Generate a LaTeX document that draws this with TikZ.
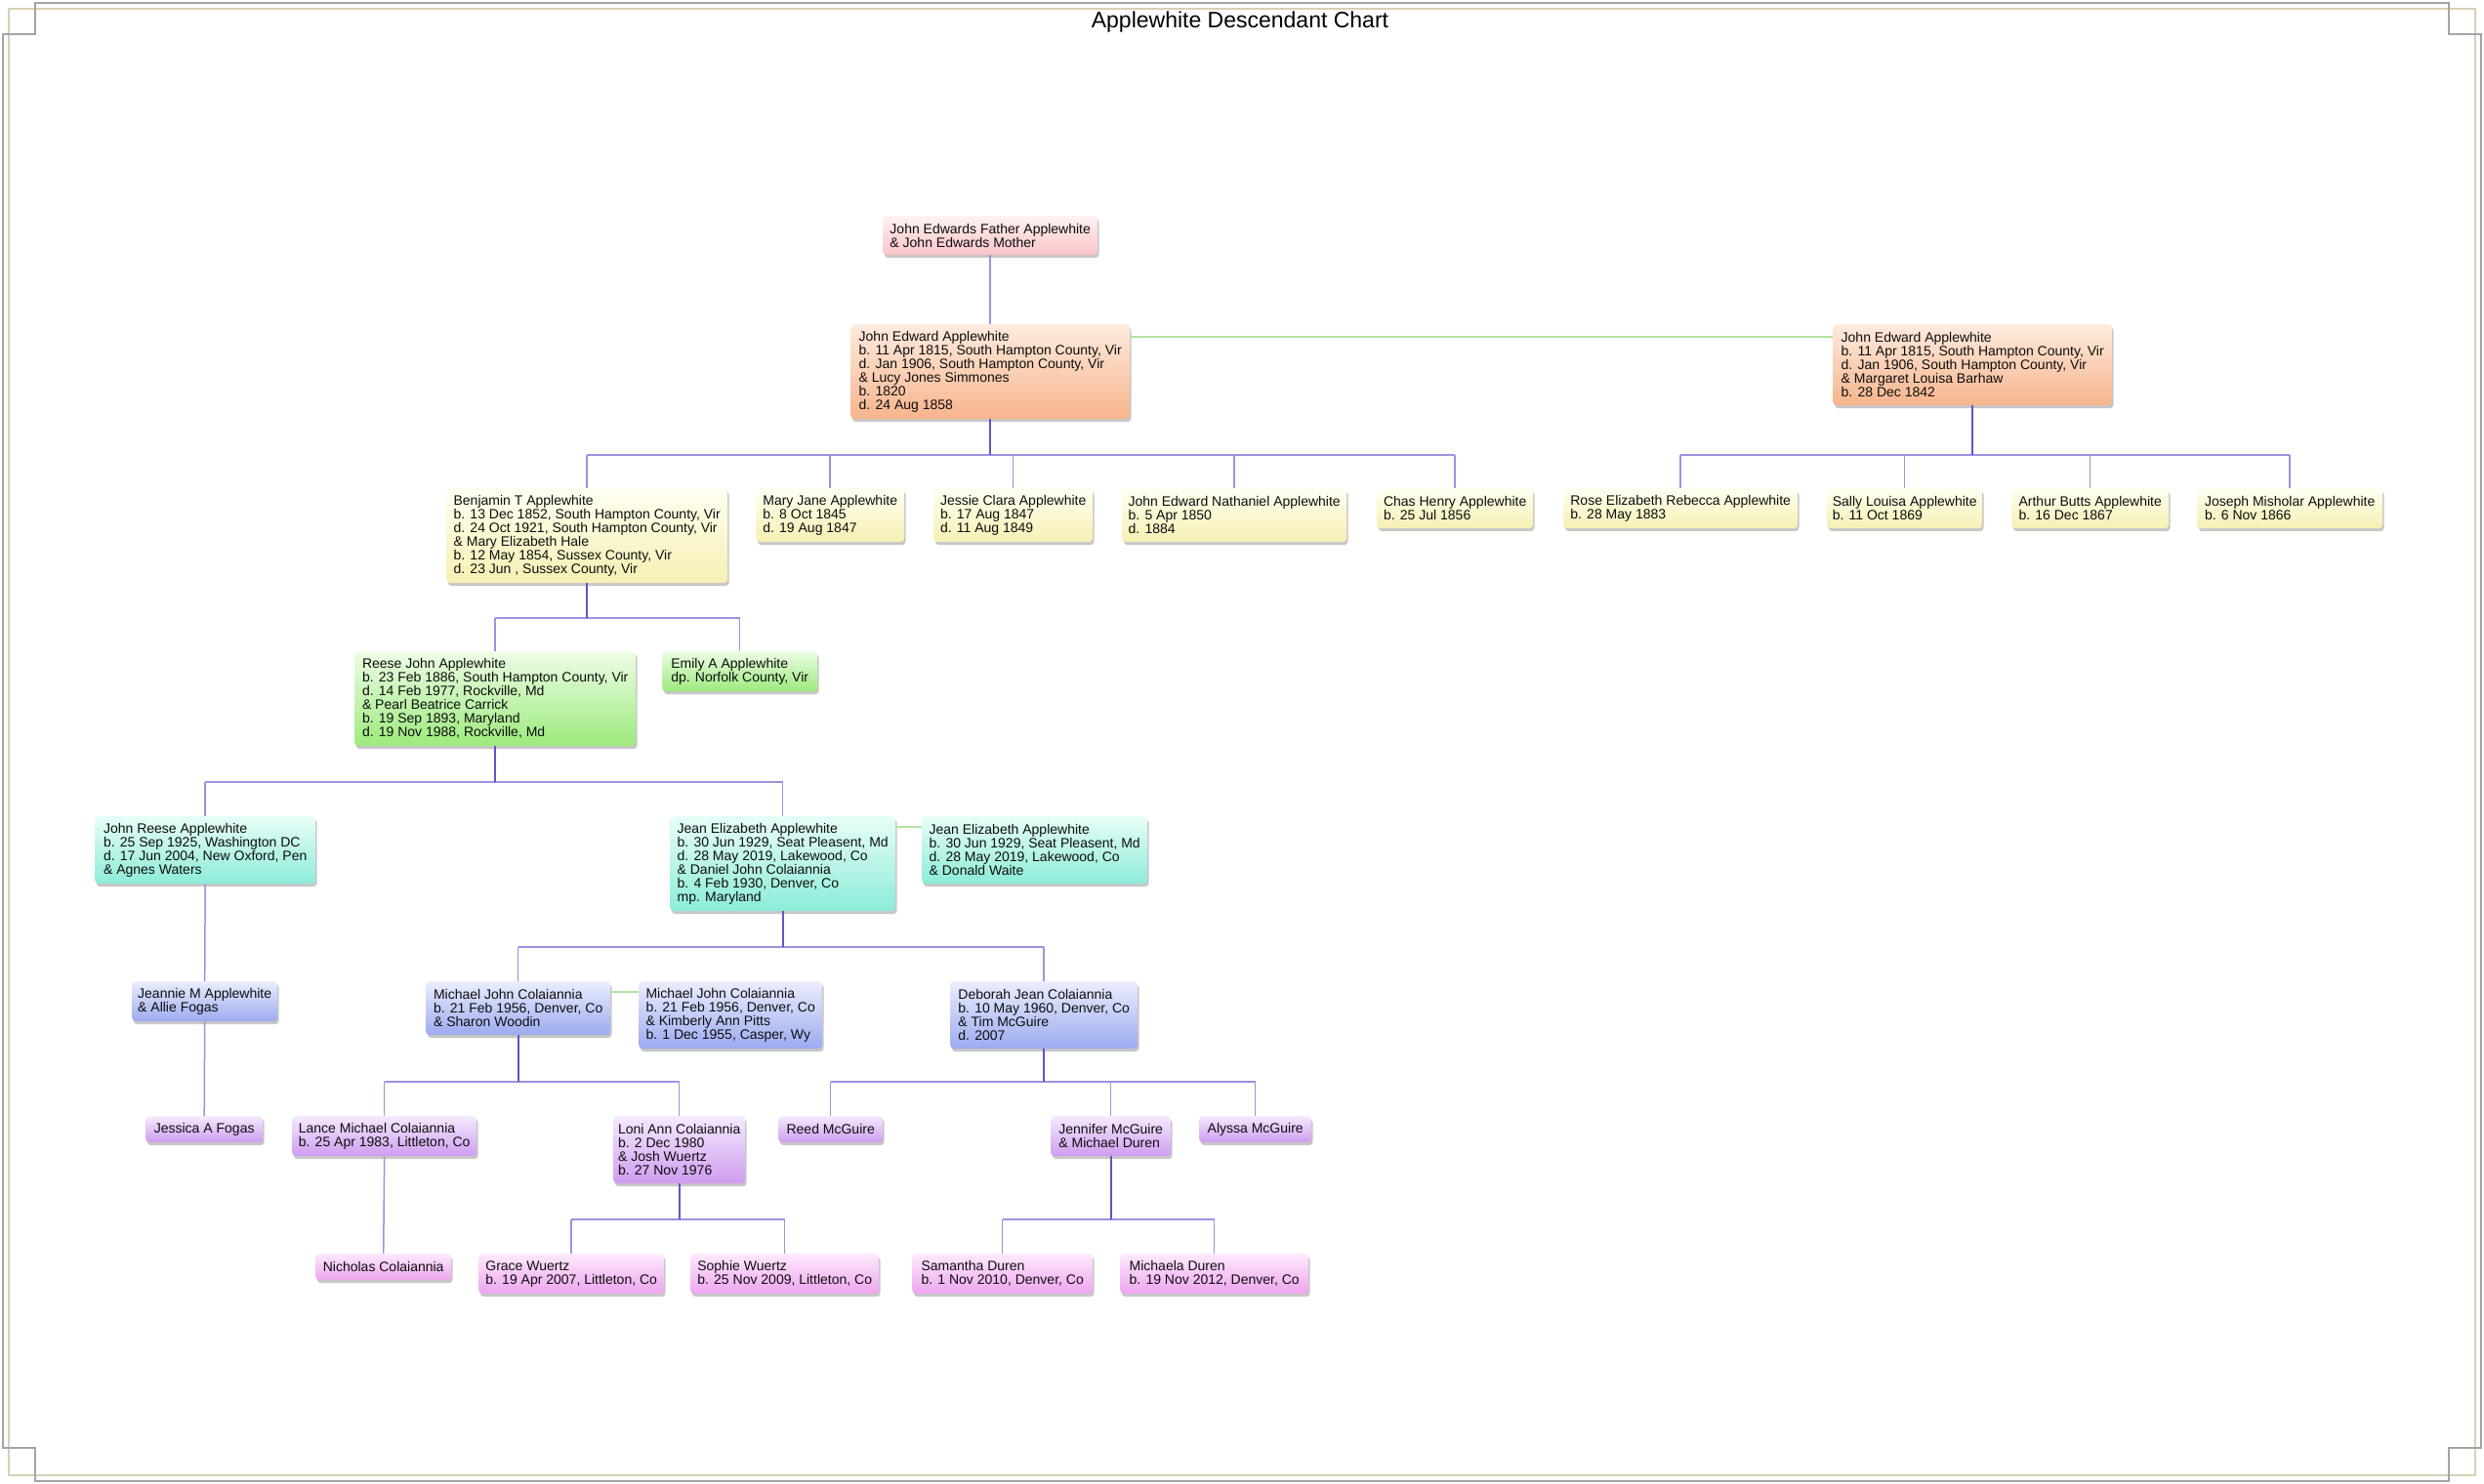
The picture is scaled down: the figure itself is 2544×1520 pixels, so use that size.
\documentclass[tikz,border=0pt]{standalone}
\usepackage{fontspec}
\setmainfont{Liberation Sans}
\usetikzlibrary{shadows}
\definecolor{c0t}{HTML}{FFF2F2}\definecolor{c0b}{HTML}{F8C4C8}
\definecolor{c1t}{HTML}{FDEBDF}\definecolor{c1b}{HTML}{F7B48C}
\definecolor{c2t}{HTML}{FFFFF2}\definecolor{c2b}{HTML}{F6F0B2}
\definecolor{c3t}{HTML}{EEFDE6}\definecolor{c3b}{HTML}{9CEA7C}
\definecolor{c4t}{HTML}{E8FDF8}\definecolor{c4b}{HTML}{8CECD8}
\definecolor{c5t}{HTML}{EAEEFD}\definecolor{c5b}{HTML}{9CAAF0}
\definecolor{c6t}{HTML}{F5EAFD}\definecolor{c6b}{HTML}{CE9CF0}
\definecolor{c7t}{HTML}{FDEAFD}\definecolor{c7b}{HTML}{EEA4EE}
\definecolor{barc}{HTML}{9C92E0}
\definecolor{stemc}{HTML}{6252D0}
\definecolor{spc}{HTML}{B0E4A0}
\definecolor{framegrey}{HTML}{A4A4A4}
\definecolor{framebeige}{HTML}{D8D0B6}
\newcommand\boxfont{\fontsize{14pt}{14pt}\selectfont}
\begin{document}
\begin{tikzpicture}[x=1pt,y=-1pt,
  pbox/.style={anchor=north west, rounded corners=4pt, align=left, inner xsep=4pt, inner ysep=4pt,
    font=\boxfont, text=black!95,
    drop shadow={shadow xshift=1.5pt, shadow yshift=-3pt, opacity=0.22, fill=black}},
  g0/.style={pbox, top color=c0t, bottom color=c0b},
  g1/.style={pbox, top color=c1t, bottom color=c1b},
  g2/.style={pbox, top color=c2t, bottom color=c2b},
  g3/.style={pbox, top color=c3t, bottom color=c3b},
  g4/.style={pbox, top color=c4t, bottom color=c4b},
  g5/.style={pbox, top color=c5t, bottom color=c5b},
  g6/.style={pbox, top color=c6t, bottom color=c6b},
  g7/.style={pbox, top color=c7t, bottom color=c7b},
  bar/.style={draw=barc, line width=1.5pt},
  stem/.style={draw=stemc, line width=2.4pt},
  spouse/.style={draw=spc, line width=1.8pt},
  wh/.style 2 args={minimum width=#1pt, minimum height=#2pt}
]
\fill[white] (0,0) rectangle (2544,1520);
\useasboundingbox (0,0) rectangle (2544,1520);
% frame
\draw[framebeige, line width=2pt] (9,9) rectangle (2535,1511);
\draw[framegrey, line width=2pt] (36,3) -- (2508,3) -- (2508,35) -- (2541,35) -- (2541,1483) -- (2508,1483) -- (2508,1517) -- (36,1517) -- (36,1483) -- (3,1483) -- (3,35) -- (36,35) -- cycle;
% title
\node[anchor=base, font=\fontsize{23pt}{23pt}\selectfont, text=black] (title) at (1270,28.5) {Applewhite Descendant Chart};

% generation 0
\node[g0, wh={220}{40}] (top) at (904,221) {John Edwards Father Applewhite\\\& John Edwards Mother};
% generation 1
\node[g1, wh={286}{97}] (jeaL) at (871,332) {John Edward Applewhite\\b. 11 Apr 1815, South Hampton County, Vir\\d. Jan 1906, South Hampton County, Vir\\\& Lucy Jones Simmones\\b. 1820\\d. 24 Aug 1858};
\node[g1, wh={286}{83}] (jeaR) at (1877,332) {John Edward Applewhite\\b. 11 Apr 1815, South Hampton County, Vir\\d. Jan 1906, South Hampton County, Vir\\\& Margaret Louisa Barhaw\\b. 28 Dec 1842};
% generation 2
\node[g2, wh={288}{97}] (benj) at (457,500) {Benjamin T Applewhite\\b. 13 Dec 1852, South Hampton County, Vir\\d. 24 Oct 1921, South Hampton County, Vir\\\& Mary Elizabeth Hale\\b. 12 May 1854, Sussex County, Vir\\d. 23 Jun , Sussex County, Vir};
\node[g2, wh={152}{55}] (mary) at (774,500) {Mary Jane Applewhite\\b. 8 Oct 1845\\d. 19 Aug 1847};
\node[g2, wh={163}{55}] (jessie) at (956,500) {Jessie Clara Applewhite\\b. 17 Aug 1847\\d. 11 Aug 1849};
\node[g2, wh={230}{55}] (jen) at (1149,500) {John Edward Nathaniel Applewhite\\b. 5 Apr 1850\\d. 1884};
\node[g2, wh={160}{41}] (chas) at (1410,500) {Chas Henry Applewhite\\b. 25 Jul 1856};
\node[g2, wh={240}{41}] (rose) at (1601,500) {Rose Elizabeth Rebecca Applewhite\\b. 28 May 1883};
\node[g2, wh={159}{41}] (sally) at (1871,500) {Sally Louisa Applewhite\\b. 11 Oct 1869};
\node[g2, wh={161}{41}] (arthur) at (2060,500) {Arthur Butts Applewhite\\b. 16 Dec 1867};
\node[g2, wh={190}{41}] (joseph) at (2250,500) {Joseph Misholar Applewhite\\b. 6 Nov 1866};
% generation 3
\node[g3, wh={288}{97}] (reese) at (363,667) {Reese John Applewhite\\b. 23 Feb 1886, South Hampton County, Vir\\d. 14 Feb 1977, Rockville, Md\\\& Pearl Beatrice Carrick\\b. 19 Sep 1893, Maryland\\d. 19 Nov 1988, Rockville, Md};
\node[g3, wh={159}{41}] (emily) at (678,667) {Emily A Applewhite\\dp. Norfolk County, Vir};
% generation 4
\node[g4, wh={226}{69}] (johnr) at (97,836) {John Reese Applewhite\\b. 25 Sep 1925, Washington DC\\d. 17 Jun 2004, New Oxford, Pen\\\& Agnes Waters};
\node[g4, wh={231}{97}] (jeanL) at (686,836) {Jean Elizabeth Applewhite\\b. 30 Jun 1929, Seat Pleasent, Md\\d. 28 May 2019, Lakewood, Co\\\& Daniel John Colaiannia\\b. 4 Feb 1930, Denver, Co\\mp. Maryland};
\node[g4, wh={231}{69}] (jeanR) at (944,836) {Jean Elizabeth Applewhite\\b. 30 Jun 1929, Seat Pleasent, Md\\d. 28 May 2019, Lakewood, Co\\\& Donald Waite};
% generation 5
\node[g5, wh={149}{41}] (jeannie) at (135,1005) {Jeannie M Applewhite\\\& Allie Fogas};
\node[g5, wh={189}{55}] (mikeS) at (436,1005) {Michael John Colaiannia\\b. 21 Feb 1956, Denver, Co\\\& Sharon Woodin};
\node[g5, wh={188}{69}] (mikeK) at (654,1005) {Michael John Colaiannia\\b. 21 Feb 1956, Denver, Co\\\& Kimberly Ann Pitts\\b. 1 Dec 1955, Casper, Wy};
\node[g5, wh={192}{69}] (deb) at (973,1005) {Deborah Jean Colaiannia\\b. 10 May 1960, Denver, Co\\\& Tim McGuire\\d. 2007};
% generation 6
\node[g6, wh={120}{27}] (jessica) at (149,1143) {Jessica A Fogas};
\node[g6, wh={189}{41}] (lance) at (299,1143) {Lance Michael Colaiannia\\b. 25 Apr 1983, Littleton, Co};
\node[g6, wh={135}{69}] (loni) at (628,1143) {Loni Ann Colaiannia\\b. 2 Dec 1980\\\& Josh Wuertz\\b. 27 Nov 1976};
\node[g6, wh={107}{27}] (reed) at (797,1143) {Reed McGuire};
\node[g6, wh={123}{41}] (jennifer) at (1076,1143) {Jennifer McGuire\\\& Michael Duren};
\node[g6, wh={115}{27}] (alyssa) at (1228,1143) {Alyssa McGuire};
% generation 7
\node[g7, wh={139}{27}] (nicholas) at (323,1284) {Nicholas Colaiannia};
\node[g7, wh={190}{41}] (grace) at (490,1284) {Grace Wuertz\\b. 19 Apr 2007, Littleton, Co};
\node[g7, wh={193}{41}] (sophie) at (707,1284) {Sophie Wuertz\\b. 25 Nov 2009, Littleton, Co};
\node[g7, wh={185}{41}] (samantha) at (934,1284) {Samantha Duren\\b. 1 Nov 2010, Denver, Co};
\node[g7, wh={193}{41}] (michaela) at (1147,1284) {Michaela Duren\\b. 19 Nov 2012, Denver, Co};

% bar levels
\coordinate (b1) at (0,466);
\coordinate (b2) at (0,633);
\coordinate (b3) at (0,801);
\coordinate (b4) at (0,970);
\coordinate (b5) at (0,1108);
\coordinate (b6) at (0,1249);

% spouse links
\draw[spouse] ([yshift=-13pt]jeaL.north east) -- ([yshift=-13pt]jeaR.north west);
\draw[spouse] ([yshift=-11pt]jeanL.north east) -- ([yshift=-11pt]jeanR.north west);
\draw[spouse] ([yshift=-11pt]mikeS.north east) -- ([yshift=-11pt]mikeK.north west);

% single-child links
\draw[bar] (top.south) -- (jeaL.north);
\draw[bar] (johnr.south) -- (jeannie.north);
\draw[bar] (jeannie.south) -- (jessica.north);
\draw[bar] (lance.south) -- (nicholas.north);

% families
\draw[bar] (benj.north |- b1) -- (chas.north |- b1);
\foreach \c in {benj,mary,jessie,jen,chas} \draw[bar] (\c.north |- b1) -- (\c.north);
\draw[stem] (jeaL.south) -- (jeaL.south |- b1);

\draw[bar] (rose.north |- b1) -- (joseph.north |- b1);
\foreach \c in {rose,sally,arthur,joseph} \draw[bar] (\c.north |- b1) -- (\c.north);
\draw[stem] (jeaR.south) -- (jeaR.south |- b1);

\draw[bar] (reese.north |- b2) -- (emily.north |- b2);
\foreach \c in {reese,emily} \draw[bar] (\c.north |- b2) -- (\c.north);
\draw[stem] (benj.south) -- (benj.south |- b2);

\draw[bar] (johnr.north |- b3) -- (jeanL.north |- b3);
\foreach \c in {johnr,jeanL} \draw[bar] (\c.north |- b3) -- (\c.north);
\draw[stem] (reese.south) -- (reese.south |- b3);

\draw[bar] (mikeS.north |- b4) -- (deb.north |- b4);
\foreach \c in {mikeS,deb} \draw[bar] (\c.north |- b4) -- (\c.north);
\draw[stem] (jeanL.south) -- (jeanL.south |- b4);

\draw[bar] (lance.north |- b5) -- (loni.north |- b5);
\foreach \c in {lance,loni} \draw[bar] (\c.north |- b5) -- (\c.north);
\draw[stem] (mikeS.south) -- (mikeS.south |- b5);

\draw[bar] (reed.north |- b5) -- (alyssa.north |- b5);
\foreach \c in {reed,jennifer,alyssa} \draw[bar] (\c.north |- b5) -- (\c.north);
\draw[stem] (deb.south) -- (deb.south |- b5);

\draw[bar] (grace.north |- b6) -- (sophie.north |- b6);
\foreach \c in {grace,sophie} \draw[bar] (\c.north |- b6) -- (\c.north);
\draw[stem] (loni.south) -- (loni.south |- b6);

\draw[bar] (samantha.north |- b6) -- (michaela.north |- b6);
\foreach \c in {samantha,michaela} \draw[bar] (\c.north |- b6) -- (\c.north);
\draw[stem] (jennifer.south) -- (jennifer.south |- b6);
\end{tikzpicture}
\end{document}
